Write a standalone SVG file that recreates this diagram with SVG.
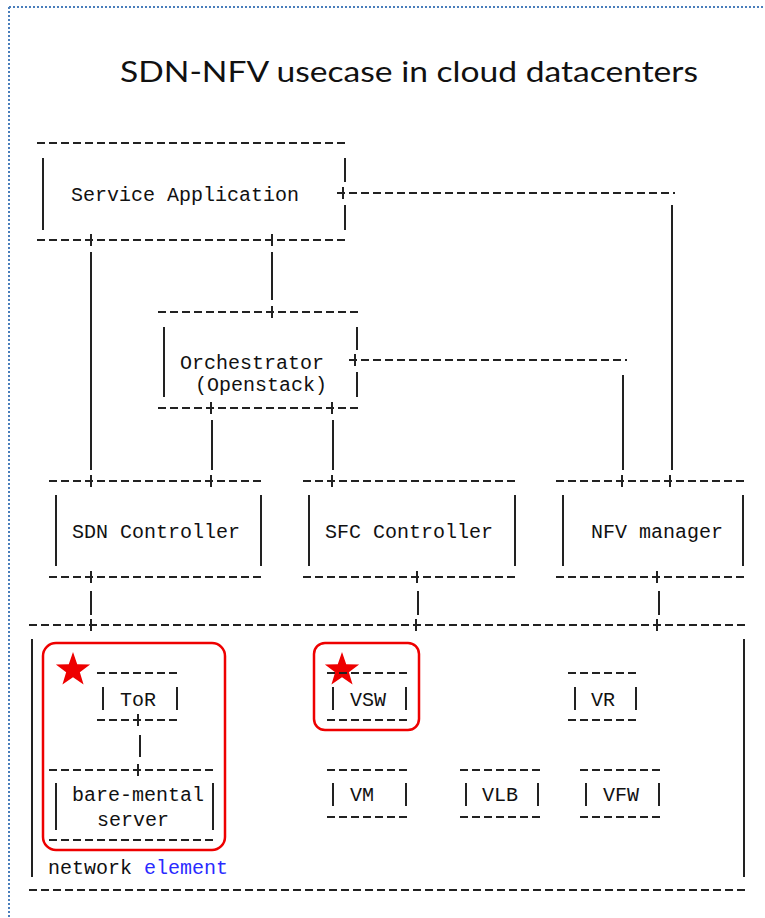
<svg xmlns="http://www.w3.org/2000/svg" xmlns:xlink="http://www.w3.org/1999/xlink" width="765" height="918" viewBox="0 0 765 918">
<style>
.d{stroke:#222;stroke-width:2;stroke-dasharray:8 4;fill:none}
.s{stroke:#222;stroke-width:2;fill:none}
.t{font-family:"Liberation Mono","DejaVu Sans Mono",monospace;font-size:20px;fill:#111}
.hl{fill:none;stroke:#ee0000;stroke-width:2.5}
.star{fill:#ee0000}
</style>
<defs>
<path id="p" d="M0,-6V6" stroke="#222" stroke-width="2"/>
<polygon id="star" points="0,-18 4.23,-5.82 17.12,-5.56 6.85,2.22 10.58,14.56 0,7.2 -10.58,14.56 -6.85,2.22 -17.12,-5.56 -4.23,-5.82"/>
</defs>
<rect width="765" height="918" fill="#fff"/>
<path d="M9,7H765M9,7V918" stroke="#4a7ebb" stroke-width="2" stroke-dasharray="2 2" fill="none"/>
<text x="409" y="82" text-anchor="middle" font-family="Lato, 'Open Sans', sans-serif" font-size="29" fill="#111" textLength="578" lengthAdjust="spacingAndGlyphs">SDN-NFV usecase in cloud datacenters</text>

<g id="connectors">
<line class="d" x1="337" y1="193" x2="675" y2="193"/>
<use href="#p" x="343" y="193"/>
<line class="s" x1="672" y1="205" x2="672" y2="470"/>
<line class="s" x1="91" y1="252" x2="91" y2="470"/>
<line class="s" x1="272" y1="252" x2="272" y2="300"/>
<line class="d" x1="349" y1="360" x2="627" y2="360"/>
<use href="#p" x="355" y="360"/>
<line class="s" x1="623" y1="375" x2="623" y2="470"/>
<line class="s" x1="212" y1="420" x2="212" y2="470"/>
<line class="s" x1="333" y1="420" x2="333" y2="470"/>
<line class="s" x1="91" y1="591" x2="91" y2="615"/>
<line class="s" x1="418" y1="591" x2="418" y2="615"/>
<line class="s" x1="659" y1="591" x2="659" y2="615"/>
<line class="s" x1="140" y1="735" x2="140" y2="757"/>
</g>

<g id="service-application">
<line class="d" x1="37" y1="143" x2="348" y2="143"/>
<line class="s" x1="43" y1="158" x2="43" y2="230"/>
<line class="s" x1="345" y1="158" x2="345" y2="182"/>
<line class="s" x1="345" y1="205" x2="345" y2="230"/>
<text class="t" x="71" y="201">Service Application</text>
<line class="d" x1="37" y1="240" x2="348" y2="240"/>
<use href="#p" x="91" y="240"/>
<use href="#p" x="272" y="240"/>
</g>

<g id="orchestrator">
<line class="d" x1="158" y1="312" x2="360" y2="312"/>
<use href="#p" x="272" y="312"/>
<line class="s" x1="164" y1="327" x2="164" y2="397"/>
<line class="s" x1="357" y1="327" x2="357" y2="350"/>
<line class="s" x1="357" y1="372" x2="357" y2="397"/>
<text class="t" x="180" y="369">Orchestrator</text>
<text class="t" x="195" y="391">(Openstack)</text>
<line class="d" x1="158" y1="408" x2="360" y2="408"/>
<use href="#p" x="211" y="408"/>
<use href="#p" x="332" y="408"/>
</g>

<g id="sdn-controller">
<line class="d" x1="49" y1="481" x2="263" y2="481"/>
<use href="#p" x="91" y="481"/>
<use href="#p" x="211" y="481"/>
<line class="s" x1="56" y1="495" x2="56" y2="566"/>
<line class="s" x1="261" y1="495" x2="261" y2="566"/>
<text class="t" x="72" y="538">SDN Controller</text>
<line class="d" x1="49" y1="577" x2="263" y2="577"/>
<use href="#p" x="91" y="577"/>
</g>

<g id="sfc-controller">
<line class="d" x1="303" y1="481" x2="517" y2="481"/>
<use href="#p" x="332" y="481"/>
<line class="s" x1="309" y1="495" x2="309" y2="566"/>
<line class="s" x1="515" y1="495" x2="515" y2="566"/>
<text class="t" x="325" y="538">SFC Controller</text>
<line class="d" x1="303" y1="577" x2="517" y2="577"/>
<use href="#p" x="417" y="577"/>
</g>

<g id="nfv-manager">
<line class="d" x1="556" y1="481" x2="747" y2="481"/>
<use href="#p" x="622" y="481"/>
<use href="#p" x="670" y="481"/>
<line class="s" x1="563" y1="495" x2="563" y2="566"/>
<line class="s" x1="743" y1="495" x2="743" y2="566"/>
<text class="t" x="591" y="538">NFV manager</text>
<line class="d" x1="556" y1="577" x2="747" y2="577"/>
<use href="#p" x="657" y="577"/>
</g>

<g id="network-element">
<line class="d" x1="29" y1="625" x2="747" y2="625"/>
<use href="#p" x="91" y="625"/>
<use href="#p" x="416" y="625"/>
<use href="#p" x="657" y="625"/>
<line class="s" x1="32" y1="639" x2="32" y2="877"/>
<line class="s" x1="744" y1="639" x2="744" y2="877"/>
<line class="d" x1="29" y1="890" x2="747" y2="890"/>
<text class="t" x="48" y="874">network <tspan fill="#2a2aff">element</tspan></text>
</g>

<g id="highlight-tor">
<rect class="hl" x="43" y="643" width="182" height="207" rx="13"/>
<use href="#star" class="star" x="73" y="670"/>
</g>

<g id="tor">
<line class="d" x1="97" y1="673" x2="180" y2="673"/>
<line class="s" x1="103" y1="687" x2="103" y2="710"/>
<line class="s" x1="177" y1="687" x2="177" y2="710"/>
<text class="t" x="120" y="706">ToR</text>
<line class="d" x1="97" y1="720" x2="180" y2="720"/>
<use href="#p" x="138" y="720"/>
</g>

<g id="bare-metal-server">
<line class="d" x1="49" y1="770" x2="215" y2="770"/>
<use href="#p" x="138" y="770"/>
<line class="s" x1="56" y1="783" x2="56" y2="830"/>
<line class="s" x1="213" y1="783" x2="213" y2="830"/>
<text class="t" x="72" y="801">bare-mental</text>
<text class="t" x="97" y="826">server</text>
<line class="d" x1="49" y1="840" x2="215" y2="840"/>
</g>

<g id="highlight-vsw">
<rect class="hl" x="314" y="643" width="105" height="87" rx="11"/>
<use href="#star" class="star" x="342" y="670"/>
</g>

<g id="vsw">
<line class="d" x1="327" y1="673" x2="409" y2="673"/>
<line class="s" x1="333" y1="687" x2="333" y2="710"/>
<line class="s" x1="406" y1="687" x2="406" y2="710"/>
<text class="t" x="350" y="706">VSW</text>
<line class="d" x1="327" y1="720" x2="409" y2="720"/>
</g>

<g id="vr">
<line class="d" x1="568" y1="673" x2="639" y2="673"/>
<line class="s" x1="575" y1="687" x2="575" y2="710"/>
<line class="s" x1="636" y1="687" x2="636" y2="710"/>
<text class="t" x="591" y="706">VR</text>
<line class="d" x1="568" y1="720" x2="639" y2="720"/>
</g>

<g id="vm">
<line class="d" x1="327" y1="770" x2="409" y2="770"/>
<line class="s" x1="333" y1="783" x2="333" y2="806"/>
<line class="s" x1="406" y1="783" x2="406" y2="806"/>
<text class="t" x="350" y="801">VM</text>
<line class="d" x1="327" y1="817" x2="409" y2="817"/>
</g>

<g id="vlb">
<line class="d" x1="460" y1="770" x2="542" y2="770"/>
<line class="s" x1="466" y1="783" x2="466" y2="806"/>
<line class="s" x1="538" y1="783" x2="538" y2="806"/>
<text class="t" x="482" y="801">VLB</text>
<line class="d" x1="460" y1="817" x2="542" y2="817"/>
</g>

<g id="vfw">
<line class="d" x1="580" y1="770" x2="663" y2="770"/>
<line class="s" x1="586" y1="783" x2="586" y2="806"/>
<line class="s" x1="659" y1="783" x2="659" y2="806"/>
<text class="t" x="603" y="801">VFW</text>
<line class="d" x1="580" y1="817" x2="663" y2="817"/>
</g>
</svg>
